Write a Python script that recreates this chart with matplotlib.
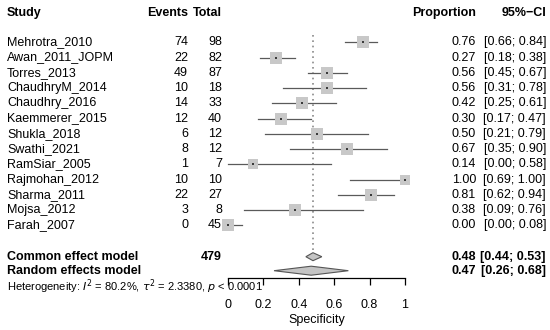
import matplotlib
matplotlib.use("Agg")
import matplotlib.pyplot as plt
from matplotlib.transforms import blended_transform_factory
from matplotlib.patches import Polygon

plt.rcParams["font.family"] = ["Liberation Sans", "DejaVu Sans"]

# ---------- Данные ----------
studies = [
    "Mehrotra_2010", "Awan_2011_JOPM", "Torres_2013", "ChaudhryM_2014",
    "Chaudhry_2016", "Kaemmerer_2015", "Shukla_2018", "Swathi_2021",
    "RamSiar_2005", "Rajmohan_2012", "Sharma_2011", "Mojsa_2012", "Farah_2007",
]
events = [74, 22, 49, 10, 14, 12, 6, 8, 1, 10, 22, 3, 0]
totals = [98, 82, 87, 18, 33, 40, 12, 12, 7, 10, 27, 8, 45]
props = [0.76, 0.27, 0.56, 0.56, 0.42, 0.30, 0.50, 0.67, 0.14, 1.00, 0.81, 0.38, 0.00]
ci_lo = [0.66, 0.18, 0.45, 0.31, 0.25, 0.17, 0.21, 0.35, 0.00, 0.69, 0.62, 0.09, 0.00]
ci_hi = [0.84, 0.38, 0.67, 0.78, 0.61, 0.47, 0.79, 0.90, 0.58, 1.00, 0.94, 0.76, 0.08]
# относительный вес (размер квадрата)
weights = [9.2, 9.2, 9.2, 8.6, 8.8, 8.8, 8.4, 8.2, 7.8, 7.8, 8.4, 8.0, 8.0]

common_total = 479
common_est, common_lo, common_hi = 0.48, 0.44, 0.53
random_est, random_lo, random_hi = 0.47, 0.26, 0.68
heterogeneity = r"Heterogeneity: $I^2$ = 80.2%, $\tau^2$ = 2.3380, $p$ < 0.0001"

xticks = [0, 0.2, 0.4, 0.6, 0.8, 1]
xtick_labels = ["0", "0.2", "0.4", "0.6", "0.8", "1"]

# ---------- Раскладка (в пикселях от верхнего края) ----------
W, H = 550, 330
row0, row_step = 42.3, 15.25
y_header = 13
y_common = 256.7
y_random = 270.7
y_het = 286.7
axis_y = 278

fig = plt.figure(figsize=(W / 100, H / 100), dpi=100)
ax = fig.add_axes([228 / W, 1 - axis_y / H, 177 / W, axis_y / H])
ax.set_xlim(0, 1)
ax.set_ylim(axis_y, 0)

for s in ["left", "top", "right"]:
    ax.spines[s].set_visible(False)
ax.spines["bottom"].set_bounds(0, 1)
ax.spines["bottom"].set_linewidth(0.9)
ax.set_yticks([])
ax.set_xticks(xticks)
ax.set_xticklabels(xtick_labels, fontsize=9)
ax.tick_params(axis="x", direction="out", length=5, width=0.9, pad=10)
ax.set_xlabel("Specificity", fontsize=9, labelpad=2)

rows = [row0 + row_step * i for i in range(len(studies))]

# линия общего эффекта
ax.plot([common_est, common_est], [35, y_common - 4.5], color="#8a8a8a",
        linestyle=(0, (1, 2.2)), linewidth=1.2, zorder=1)

# исследования
for y, p, lo, hi, w in zip(rows, props, ci_lo, ci_hi, weights):
    ax.plot([lo, hi], [y, y], color="#5a5a5a", linewidth=0.9, zorder=2, clip_on=False)
    ax.plot(p, y, marker="s", markersize=w, color="#c8c8c8", markeredgewidth=0,
            zorder=3, clip_on=False)
    ax.plot(p, y, marker="s", markersize=1.8, color="#3a3a3a", markeredgewidth=0,
            zorder=4, clip_on=False)

# ромбы
for est, lo, hi, y, hh in [(common_est, common_lo, common_hi, y_common, 4.0),
                           (random_est, random_lo, random_hi, y_random, 4.5)]:
    ax.add_patch(Polygon([[lo, y], [est, y - hh], [hi, y], [est, y + hh]],
                         closed=True, facecolor="#c4c4c4", edgecolor="#555555",
                         linewidth=0.8, zorder=3, clip_on=False))

# ---------- Текстовые колонки ----------
tr = blended_transform_factory(fig.transFigure, ax.transData)


def put(px, y, s, ha="left", weight="normal", size=9):
    ax.text(px / W, y, s, transform=tr, ha=ha, va="center", fontsize=size,
            fontweight=weight, clip_on=False)


put(7, y_header, "Study", weight="bold")
put(188, y_header, "Events", ha="right", weight="bold")
put(222, y_header, "Total", ha="right", weight="bold")
put(476, y_header, "Proportion", ha="right", weight="bold")
put(546, y_header, "95%\u2212CI", ha="right", weight="bold")

for y, name, e, n, p, lo, hi in zip(rows, studies, events, totals, props, ci_lo, ci_hi):
    put(7, y, name)
    put(188, y, str(e), ha="right")
    put(222, y, str(n), ha="right")
    put(476, y, f"{p:.2f}", ha="right")
    put(546, y, f"[{lo:.2f}; {hi:.2f}]", ha="right")

put(7, y_common, "Common effect model", weight="bold")
put(222, y_common, str(common_total), ha="right", weight="bold")
put(476, y_common, f"{common_est:.2f}", ha="right", weight="bold")
put(546, y_common, f"[{common_lo:.2f}; {common_hi:.2f}]", ha="right", weight="bold")

put(7, y_random, "Random effects model", weight="bold")
put(476, y_random, f"{random_est:.2f}", ha="right", weight="bold")
put(546, y_random, f"[{random_lo:.2f}; {random_hi:.2f}]", ha="right", weight="bold")

ax.text(7 / W, y_het, heterogeneity, transform=tr, ha="left", va="center",
        fontsize=8, clip_on=False)

fig.savefig("out.png", dpi=100)
